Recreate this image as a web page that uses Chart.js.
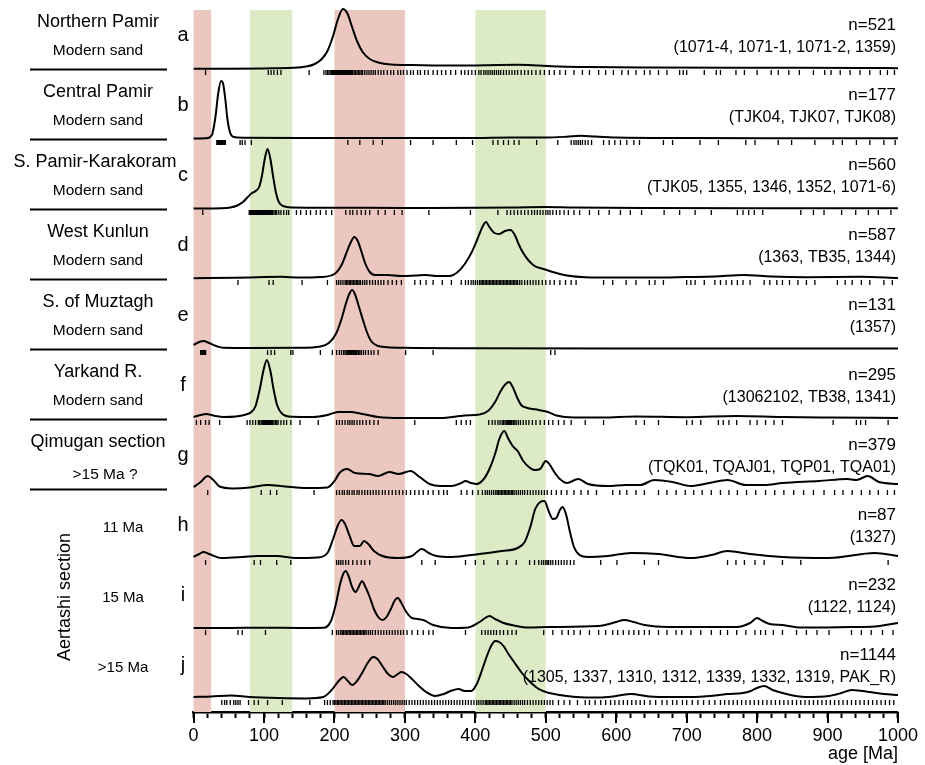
<!DOCTYPE html>
<html>
<head>
<meta charset="utf-8">
<script src="https://cdn.jsdelivr.net/npm/chart.js@4.4.0/dist/chart.umd.min.js"></script>
<style>
  body { margin: 0; background: #fff; }
  #chart { display: block; }
</style>
</head>
<body>
<canvas id="chart" width="925" height="765"></canvas>
<script>
// Panel labels
const panelLetters = ["a", "b", "c", "d", "e", "f", "g", "h", "i", "j"];
const panelNames = ["Northern Pamir", "Central Pamir", "S. Pamir-Karakoram", "West Kunlun",
    "S. of Muztagh", "Yarkand R.", "Qimugan section", "", "", ""];
const panelSubs = ["Modern sand", "Modern sand", "Modern sand", "Modern sand", "Modern sand",
    "Modern sand", ">15 Ma ?", "11 Ma", "15 Ma", ">15 Ma"];
const sampleCounts = [521, 177, 560, 587, 131, 295, 379, 87, 232, 1144];
const sampleIds = [
    "(1071-4, 1071-1, 1071-2, 1359)",
    "(TJK04, TJK07, TJK08)",
    "(TJK05, 1355, 1346, 1352, 1071-6)",
    "(1363, TB35, 1344)",
    "(1357)",
    "(13062102, TB38, 1341)",
    "(TQK01, TQAJ01, TQP01, TQA01)",
    "(1327)",
    "(1122, 1124)",
    "(1305, 1337, 1310, 1312, 1339, 1332, 1319, PAK_R)"
];

// Age bands [from, to] in Ma
const pinkBands = [[0, 25], [200, 300]];
const greenBands = [[80, 140], [400, 500]];

// Density curves [age Ma, relative density]
const kdeA = [[0,0.3],[50,0.3],[100,0.6],[140,1.2],[160,2.5],[172,5],[182,10],[190,18],[198,33],[205,50],[212,60],[218,56],[225,42],[232,28],[240,17],[250,10],[262,6.5],[280,4.5],[310,4],[350,3.5],[390,3.5],[430,4],[460,4.2],[490,3.5],[520,2.6],[560,2],[650,1.5],[800,1.2],[950,1],[1000,0.8]];
const kdeB = [[0,0.5],[18,0.8],[26,4],[31,22],[35,46],[39,58],[42,55],[45,40],[48,20],[52,6],[57,2],[70,1.2],[150,1],[300,1],[400,1.1],[450,1.5],[500,1.5],[530,2.3],[550,3.2],[570,2.4],[600,1.5],[700,1],[850,0.8],[1000,0.8]];
const kdeC = [[0,0.5],[40,0.8],[52,1.5],[62,3.5],[70,7],[77,12],[83,16],[88,18],[93,22],[97,33],[101,50],[105,60],[109,50],[113,32],[117,16],[121,7],[127,3],[140,1.6],[200,1.3],[300,1.1],[400,1.2],[460,1.6],[500,2],[540,1.5],[650,1],[800,0.8],[1000,0.8]];
const kdeD = [[0,0.8],[60,1.2],[100,2],[125,2.2],[150,1.5],[180,2],[200,5],[210,14],[218,28],[224,38],[228,42],[233,38],[238,28],[244,15],[250,7],[258,4],[275,4],[295,3],[315,3.5],[330,4],[345,3],[363,3],[375,7],[385,15],[395,27],[403,40],[410,52],[415,57],[420,52],[427,46],[434,45],[442,48],[450,49],[456,44],[462,34],[468,26],[475,19],[484,13],[497,10],[510,7],[530,3.5],[556,1.8],[600,1.5],[650,1.5],[700,2],[740,2.5],[781,4],[820,2.5],[870,1.8],[947,2.2],[1000,1]];
const kdeE = [[0,4],[8,7],[14,8],[22,6],[32,3],[42,1.2],[80,1],[150,1.2],[180,2.5],[192,6],[202,15],[210,30],[216,45],[221,55],[225,59],[229,55],[234,44],[240,30],[246,17],[252,8],[260,3.5],[275,1.8],[300,1.2],[400,0.8],[600,0.5],[1000,0.4]];
const kdeF = [[0,2],[10,4],[18,5],[28,3.5],[43,2],[60,2.5],[72,4],[82,7],[88,13],[94,30],[99,48],[104,59],[109,48],[114,28],[119,13],[126,5],[140,2.2],[170,2],[190,4],[205,7],[222,7],[240,5],[262,2],[295,1],[350,1],[385,3.5],[406,4.5],[418,8],[428,17],[436,28],[443,35],[448,37],[453,32],[459,22],[465,14],[474,11],[490,9],[503,7],[515,3.5],[540,1.5],[580,1.5],[628,2.5],[700,1.8],[771,3],[836,2],[900,1.5],[1000,1]];
const kdeG = [[0,2],[10,7],[20,13],[28,9],[37,2.5],[55,0.6],[80,1.5],[105,4],[130,2.5],[160,1],[190,1.5],[200,8],[207,16],[218,20],[229,16],[249,15],[262,13],[278,17],[291,15],[308,18],[321,12],[335,5],[350,3],[366,3],[380,6],[386,8],[394,6],[402,5],[412,10],[420,20],[428,35],[434,50],[441,58],[447,50],[453,43],[460,38],[468,28],[476,22],[484,19],[492,20],[500,28],[506,24],[512,17],[520,10],[530,6],[546,10],[560,5],[588,3],[614,4],[634,4],[654,9],[680,7],[706,3],[732,6],[758,9],[784,4],[810,4],[836,6],[888,8],[928,10],[941,9],[957,13],[973,7],[1000,5]];
const kdeH = [[0,2],[8,5],[14,7],[22,5],[40,1],[70,2],[90,3],[118,3],[145,1],[175,1.5],[190,6],[198,20],[205,34],[210,39],[215,35],[221,24],[228,13],[236,13],[242,18],[248,15],[256,8],[268,3],[290,1],[310,3],[324,10],[334,6],[345,3],[366,2],[406,5],[438,8],[460,11],[470,17],[478,32],[485,50],[492,57],[498,58],[504,48],[510,40],[515,41],[520,49],[524,52],[529,44],[534,28],[540,12],[548,4],[560,2],[588,3],[621,6],[660,5],[706,1],[735,4],[758,8],[790,5],[836,2],[902,1],[967,6],[1000,3]];
const kdeI = [[0,1],[50,1],[100,1.3],[150,1],[185,1.2],[195,8],[202,25],[208,45],[213,56],[216,58],[220,53],[225,42],[230,37],[235,43],[239,48],[244,42],[250,32],[256,20],[262,12],[268,9],[274,12],[280,20],[286,29],[290,31],[295,26],[302,17],[310,11],[318,10],[326,9],[340,4],[366,1],[390,1.5],[406,7],[414,11],[420,13],[428,10],[440,6],[455,3.5],[475,1.5],[505,2],[575,3],[600,7],[611,9],[625,7],[640,4],[673,2],[771,2],[790,6],[800,11],[808,8],[818,5],[836,4],[862,1.5],[934,2],[967,2.5],[1000,6]];
const kdeJ = [[0,2],[25,2.5],[53,3.5],[80,2],[120,1],[160,0.6],[184,2],[196,9],[206,18],[213,22],[219,18],[225,14],[232,18],[240,27],[248,37],[255,42],[261,40],[268,33],[276,25],[283,22],[290,25],[295,27],[302,25],[310,20],[320,13],[330,7],[343,3],[355,5],[365,8],[376,10],[385,8],[394,8],[402,15],[410,30],[418,46],[424,55],[428,58],[434,57],[440,53],[447,45],[455,37],[465,27],[475,19],[490,10],[505,6],[520,4],[543,2],[575,1.5],[600,3],[621,5],[647,2.5],[680,2],[706,2],[740,3.5],[758,5],[780,6],[791,8],[800,11],[810,13],[822,9],[836,6],[869,2],[902,3],[920,6],[934,9],[950,8],[960,7],[980,5],[1000,4]];

// Single grain ages (rug), Ma
const rugA = [17,106,110,114,119,124,164,185,188,190,192,194,196,197,198,199,200,201,202,203,204,205,206,207,208,209,210,211,212,213,214,215,216,217,218,219,220,221,222,223,224,225,226,228,230,232,234,236,238,240,243,246,249,252,255,258,262,266,270,275,280,284,290,294,298,303,308,312,318,322,328,333,340,346,352,358,365,372,380,385,390,395,400,405,408,412,415,418,421,424,427,430,433,436,440,444,448,452,456,460,465,470,475,480,486,492,498,505,512,520,528,540,552,562,575,585,596,608,617,628,640,648,660,672,690,695,700,725,742,748,770,782,800,820,830,845,860,880,896,905,918,932,946,960,975,985,995];
const rugB = [33,34,35,36,37,38,39,40,41,42,43,44,45,66,69,73,82,219,236,255,268,308,340,373,396,425,432,440,447,455,462,487,517,536,540,543,546,549,552,556,560,565,582,590,598,606,615,625,633,667,680,719,745,784,797,830,849,882,908,921,941,960,980,996];
const rugC = [13,79,80,81,82,83,84,85,86,87,88,89,90,91,92,93,94,95,96,97,98,99,100,101,102,103,104,105,106,107,108,109,110,111,112,114,116,118,121,124,128,132,135,146,152,160,166,174,180,188,196,216,222,226,232,238,244,250,262,272,285,296,334,393,432,445,450,455,460,465,470,475,480,484,488,492,496,500,503,506,510,515,520,526,532,540,548,562,575,590,606,620,636,668,690,712,735,772,780,788,796,808,862,880,895,920,940,958,972,990];
const rugD = [63,107,113,154,190,203,206,209,212,215,217,219,221,223,225,227,229,231,233,235,237,240,243,246,250,254,258,262,266,270,276,282,288,295,314,322,330,340,353,366,380,386,390,394,397,400,403,406,408,410,412,414,416,418,420,422,424,426,428,430,432,434,436,438,440,442,444,446,448,450,452,454,456,458,460,463,466,470,474,478,482,486,490,495,500,506,512,520,528,536,543,582,595,614,628,647,655,667,700,706,712,725,740,748,756,764,772,780,790,810,818,828,836,846,858,870,882,914,925,935,948,960,980,992];
const rugE = [10,11,12,13,14,15,16,17,105,110,115,138,141,180,197,203,207,210,213,215,217,219,220,221,222,223,224,225,226,227,228,229,230,231,232,234,236,238,241,244,248,252,256,262,301,340,507,513];
const rugF = [4,10,17,22,37,76,80,84,88,92,94,96,98,99,100,101,102,103,104,105,106,107,108,109,110,111,112,114,116,118,120,124,128,132,138,151,177,203,207,211,215,219,222,225,228,232,236,240,245,250,256,262,314,373,380,387,393,419,424,428,432,435,438,440,442,444,446,447,448,449,450,451,452,454,456,458,461,464,468,472,476,481,486,492,498,504,510,518,526,536,556,582,628,640,660,700,708,720,745,752,760,771,790,800,812,824,836,908,941,947,954,986];
const rugG = [20,96,109,118,171,203,207,211,214,218,221,225,228,232,235,239,243,247,251,255,259,263,268,272,277,282,287,292,297,302,308,314,320,326,333,340,348,355,360,380,388,396,404,410,414,417,420,423,426,429,431,433,435,437,439,441,443,445,447,449,451,453,455,458,461,464,467,470,474,478,482,486,490,494,498,502,508,515,522,530,540,550,560,572,595,605,615,628,640,660,672,685,698,710,722,735,748,760,772,785,798,812,825,838,852,866,880,895,910,922,935,948,960,972,985,995];
const rugH = [17,86,95,118,138,203,206,209,212,216,220,226,232,238,243,250,324,343,386,400,412,432,445,458,477,484,490,494,497,500,502,504,507,510,514,518,522,526,530,535,540,578,601,640,660,758,770,782,797,810,836,862,986];
const rugI = [17,63,69,102,197,203,206,209,211,213,215,217,219,221,223,225,227,229,231,233,235,237,239,241,243,245,248,251,254,258,262,266,270,274,278,282,286,290,294,298,303,310,318,326,334,340,386,409,414,418,422,426,430,435,440,446,452,458,497,510,523,532,540,549,562,575,585,595,602,610,618,625,632,640,647,660,672,685,693,706,720,735,748,758,771,784,797,805,812,823,836,856,870,885,902,934,948,962,978,993];
const rugJ = [40,44,47,52,57,60,63,66,78,86,92,105,126,165,186,190,194,198,200,202,204,206,208,210,212,214,216,218,220,222,224,226,228,230,232,234,236,238,240,242,244,246,248,250,252,254,256,258,260,262,264,266,268,270,272,275,278,281,284,287,290,293,296,299,302,306,310,314,318,322,326,330,334,338,342,346,350,354,358,362,366,370,374,378,382,386,390,394,398,402,405,408,411,414,416,418,420,422,424,426,428,430,432,434,436,438,440,442,444,446,448,450,452,455,458,461,464,467,470,474,478,482,486,490,494,498,502,506,510,518,526,534,545,556,562,570,578,585,592,598,604,610,616,622,628,634,640,648,656,665,672,680,686,694,700,708,716,724,732,740,748,754,760,766,772,778,784,790,796,802,808,814,820,826,832,838,844,850,856,862,868,874,880,886,892,898,904,910,916,922,928,934,940,946,952,958,964,970,976,982,988,994];

const kdes = [kdeA, kdeB, kdeC, kdeD, kdeE, kdeF, kdeG, kdeH, kdeI, kdeJ];
const rugs = [rugA, rugB, rugC, rugD, rugE, rugF, rugG, rugH, rugI, rugJ];

// layout: every panel is one unit tall on the y scale
const PANEL_GAP = 13 / 70;   // space under the lowest baseline
const DENS = 1 / 70;         // density -> panel units
const RUG_OFF = 3.5 / 70;    // rug sits just below the baseline
const panelBase = k => PANEL_GAP + (kdes.length - 1 - k);

const FONT = '"Liberation Sans", Arial, Helvetica, sans-serif';
Chart.defaults.font.family = FONT;
Chart.defaults.color = "#000";

const datasets = [];
kdes.forEach((kde, k) => {
    const base = panelBase(k);
    datasets.push({
        data: kde.map(p => ({ x: p[0], y: base + p[1] * DENS })),
        showLine: true,
        borderColor: "#000",
        borderWidth: 2,
        pointRadius: 0,
        cubicInterpolationMode: "monotone",
        fill: false,
        clip: false
    });
    datasets.push({
        data: rugs[k].map(a => ({ x: a, y: base - RUG_OFF })),
        showLine: false,
        pointStyle: "line",
        rotation: 90,
        pointRadius: 2.5,
        pointBorderWidth: 1.3,
        pointBorderColor: "#000",
        borderColor: "#000"
    });
});

// Background bands
const bandsPlugin = {
    id: "bands",
    beforeDatasetsDraw(chart) {
        const { ctx, chartArea, scales: { x } } = chart;
        ctx.save();
        const draw = (bands, color) => {
            ctx.fillStyle = color;
            bands.forEach(b => {
                const x0 = x.getPixelForValue(b[0]);
                const x1 = x.getPixelForValue(b[1]);
                ctx.fillRect(x0, chartArea.top, x1 - x0, chartArea.bottom - chartArea.top);
            });
        };
        draw(pinkBands, "rgb(236, 199, 191)");
        draw(greenBands, "rgb(220, 234, 198)");
        ctx.restore();
    }
};

// Texts, separators and long ticks
const labelsPlugin = {
    id: "labels",
    afterDraw(chart) {
        const { ctx, chartArea, scales: { x, y } } = chart;
        ctx.save();
        ctx.fillStyle = "#000";
        ctx.strokeStyle = "#000";

        // long ticks every 100 Ma
        ctx.lineWidth = 2;
        for (let v = 0; v <= 1000; v += 100) {
            const px = Math.round(x.getPixelForValue(v));
            ctx.beginPath();
            ctx.moveTo(px, chartArea.bottom);
            ctx.lineTo(px, chartArea.bottom + 11);
            ctx.stroke();
        }

        panelLetters.forEach((letter, k) => {
            const by = y.getPixelForValue(panelBase(k));

            ctx.textBaseline = "alphabetic";
            ctx.textAlign = "center";
            ctx.font = "20px " + FONT;
            ctx.fillText(letter, 183, by - 28.5);

            ctx.textBaseline = "middle";
            if (panelNames[k]) {
                ctx.font = "18px " + FONT;
                ctx.fillText(panelNames[k], k === 2 ? 95 : 98, by - 47);
                ctx.font = "15.5px " + FONT;
                if (k === 6) {
                    ctx.fillText(panelSubs[k], 105, by - 14);
                } else {
                    ctx.fillText(panelSubs[k], 98, by - 18);
                }
                if (k < 7) {
                    ctx.lineWidth = 2;
                    ctx.beginPath();
                    ctx.moveTo(30, by + 0.5);
                    ctx.lineTo(167, by + 0.5);
                    ctx.stroke();
                }
            } else {
                ctx.font = "15px " + FONT;
                ctx.fillText(panelSubs[k], 123, by - 31);
            }

            ctx.textAlign = "right";
            ctx.font = "17px " + FONT;
            ctx.fillText("n=" + sampleCounts[k], 896, by - 44);
            ctx.font = "16px " + FONT;
            ctx.fillText(sampleIds[k], 896, by - 21);
        });

        // rotated section name
        ctx.save();
        ctx.translate(65, 597);
        ctx.rotate(-Math.PI / 2);
        ctx.textAlign = "center";
        ctx.textBaseline = "middle";
        ctx.font = "18px " + FONT;
        ctx.fillText("Aertashi section", 0, 0);
        ctx.restore();

        ctx.restore();
    }
};

new Chart(document.getElementById("chart"), {
    type: "scatter",
    data: { datasets: datasets },
    options: {
        responsive: false,
        animation: false,
        events: [],
        layout: { padding: { left: 193.6, right: 24.4, top: 10, bottom: 0 } },
        plugins: { legend: { display: false }, tooltip: { enabled: false } },
        scales: {
            x: {
                type: "linear",
                min: 0,
                max: 1000,
                afterFit(scale) { scale.height = 53; },
                ticks: {
                    stepSize: 20,
                    autoSkip: false,
                    maxRotation: 0,
                    padding: 7,
                    font: { size: 18 },
                    color: "#000",
                    callback: v => (v % 100 === 0 ? String(v) : "")
                },
                grid: {
                    drawOnChartArea: false,
                    drawTicks: true,
                    tickLength: 6,
                    tickWidth: 2,
                    tickColor: "#000"
                },
                border: { display: true, color: "#000", width: 2.5 },
                title: {
                    display: true,
                    text: "age [Ma]",
                    align: "end",
                    font: { size: 18 },
                    color: "#000",
                    padding: { top: 0, bottom: 0 }
                }
            },
            y: {
                type: "linear",
                display: false,
                min: 0,
                max: 702 / 70
            }
        }
    },
    plugins: [bandsPlugin, labelsPlugin]
});
</script>
</body>
</html>
